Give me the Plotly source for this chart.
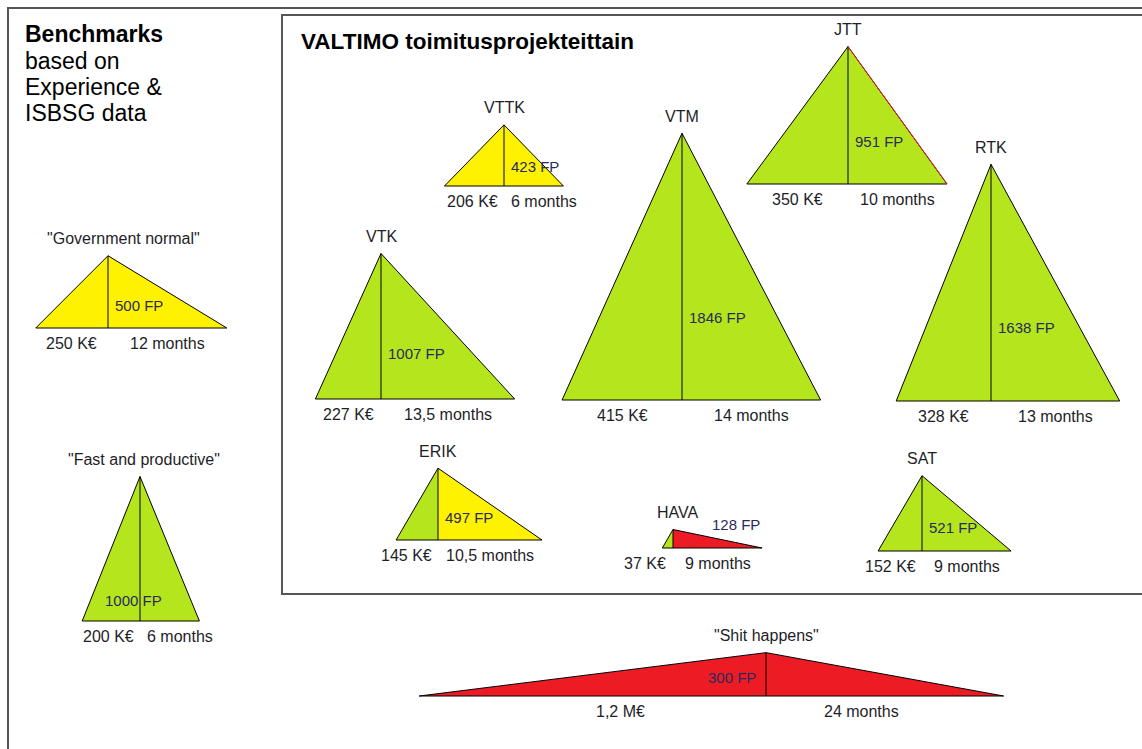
import plotly.graph_objects as go

# ---------------- data ----------------
names = ['"Government normal"', '"Fast and productive"', '"Shit happens"',
         'VTTK', 'VTK', 'VTM', 'JTT', 'RTK', 'ERIK', 'HAVA', 'SAT']
cost_keur = [250, 200, 1200, 206, 227, 415, 350, 328, 145, 37, 152]
cost_labels = ['250 K€', '200 K€', '1,2 M€', '206 K€', '227 K€', '415 K€',
               '350 K€', '328 K€', '145 K€', '37 K€', '152 K€']
months = [12, 6, 24, 6, 13.5, 14, 10, 13, 10.5, 9, 9]
month_labels = ['12 months', '6 months', '24 months', '6 months', '13,5 months',
                '14 months', '10 months', '13 months', '10,5 months', '9 months', '9 months']
function_points = [500, 1000, 300, 423, 1007, 1846, 951, 1638, 497, 128, 521]
cost_rating = ['yellow', 'green', 'red', 'yellow', 'green', 'green', 'green',
               'green', 'green', 'green', 'green']
time_rating = ['yellow', 'green', 'red', 'yellow', 'green', 'green', 'green',
               'green', 'yellow', 'red', 'green']

# ---------------- layout (positions / styles) ----------------
W, H = 1142, 749
apex_x = [108, 140, 766, 504, 381, 682, 848, 991, 438, 673, 922]
base_y = [328, 621, 696, 186, 399, 400, 184, 401, 540, 548, 551]
name_dx = [15, 4, 0, 0, 0, 0, 0, 0, 0, 5, 0]
fp_mode = ['left', 'center', 'right', 'left', 'left', 'left', 'left', 'left',
           'left', 'above', 'left']
red_right_edge = ['JTT']

PX_PER_KEUR = 0.289
PX_PER_MONTH = 9.9
PX_PER_FP = 0.1445

COLORS = {'green': '#B5E61D', 'yellow': '#FFF200', 'red': '#ED1C24'}
FONT = 'Arial, Liberation Sans, sans-serif'
LBL_SIZE = 16
FP_SIZE = 15
LBL_COLOR = '#1e1e28'
FP_COLOR = '#2a2a5c'

fig = go.Figure()
ann = []


def tw(s, size=LBL_SIZE):
    return 0.5 * size * len(s)


for i, nm in enumerate(names):
    ax, by = apex_x[i], base_y[i]
    L = ax - cost_keur[i] * PX_PER_KEUR
    R = ax + months[i] * PX_PER_MONTH
    T = by - function_points[i] * PX_PER_FP
    # halves
    fig.add_trace(go.Scatter(x=[L, ax, ax, L], y=[by, T, by, by], fill='toself',
                             fillcolor=COLORS[cost_rating[i]], mode='none',
                             hoverinfo='skip'))
    fig.add_trace(go.Scatter(x=[ax, ax, R, ax], y=[by, T, by, by], fill='toself',
                             fillcolor=COLORS[time_rating[i]], mode='none',
                             hoverinfo='skip'))
    # outline
    fig.add_trace(go.Scatter(x=[R, L, ax, R, None, ax, ax],
                             y=[by, by, T, by, None, T, by], mode='lines',
                             line=dict(color='black', width=1), hoverinfo='skip'))
    if nm in red_right_edge:
        fig.add_trace(go.Scatter(x=[ax, R], y=[T, by], mode='lines',
                                 line=dict(color='#ED1C24', width=1), hoverinfo='skip'))
    # name
    ann.append(dict(x=ax + name_dx[i], y=T - 17, text=nm, xanchor='center', yanchor='middle',
                    font=dict(size=LBL_SIZE, color=LBL_COLOR)))
    # cost label
    cx = min((L + ax) / 2, ax - 8 - tw(cost_labels[i]) / 2)
    if (ax - L) > 200:
        cx = L + 0.58 * (ax - L)
    ann.append(dict(x=cx, y=by + 15, text=cost_labels[i], xanchor='center',
                    yanchor='middle', font=dict(size=LBL_SIZE, color=LBL_COLOR)))
    # months label
    mx = max((ax + R) / 2, ax + 8 + tw(month_labels[i]) / 2)
    if (R - ax) > 200:
        mx = ax + 0.4 * (R - ax)
    ann.append(dict(x=mx, y=by + 15, text=month_labels[i], xanchor='center',
                    yanchor='middle', font=dict(size=LBL_SIZE, color=LBL_COLOR)))
    # FP label
    fpt = f'{function_points[i]} FP'
    h = by - T
    mode = fp_mode[i]
    if mode == 'left':
        d = dict(x=ax + 5, y=by - max(0.31 * h, 20), xanchor='left')
    elif mode == 'center':
        d = dict(x=ax - 7, y=by - 21, xanchor='center')
    elif mode == 'right':
        d = dict(x=ax - 8, y=by - 19, xanchor='right')
    else:
        d = dict(x=R, y=T - 5, xanchor='right')
    d.update(text=fpt, yanchor='middle', font=dict(size=FP_SIZE, color=FP_COLOR))
    ann.append(d)

# headings
ann.append(dict(x=23, y=34, text='<b>Benchmarks</b>', xanchor='left', yanchor='middle',
                font=dict(size=23, color='black')))
for txt, yy in [('based on', 61), ('Experience &', 87), ('ISBSG data', 113)]:
    ann.append(dict(x=23, y=yy, text=txt, xanchor='left', yanchor='middle',
                    font=dict(size=23, color='black')))
ann.append(dict(x=299, y=41, text='<b>VALTIMO toimitusprojekteittain</b>', xanchor='left',
                yanchor='middle', font=dict(size=22.5, color='black')))

for a in ann:
    a.update(xref='x', yref='y', showarrow=False)

shapes = [
    dict(type='rect', xref='x', yref='y', x0=8, y0=8, x1=W + 20, y1=H + 20,
         line=dict(color='#555555', width=2)),
    dict(type='rect', xref='x', yref='y', x0=282, y0=15, x1=W + 20, y1=594,
         line=dict(color='#555555', width=2)),
]

fig.update_layout(
    width=W, height=H, margin=dict(l=0, r=0, t=0, b=0),
    paper_bgcolor='white', plot_bgcolor='white', showlegend=False,
    font=dict(family=FONT),
    xaxis=dict(range=[0, W], visible=False, fixedrange=True),
    yaxis=dict(range=[H, 0], visible=False, fixedrange=True),
    annotations=ann, shapes=shapes,
)

fig.write_html("out.html", config={'displayModeBar': False},
               post_script="document.body.style.margin='0';document.body.style.overflow='hidden';")
